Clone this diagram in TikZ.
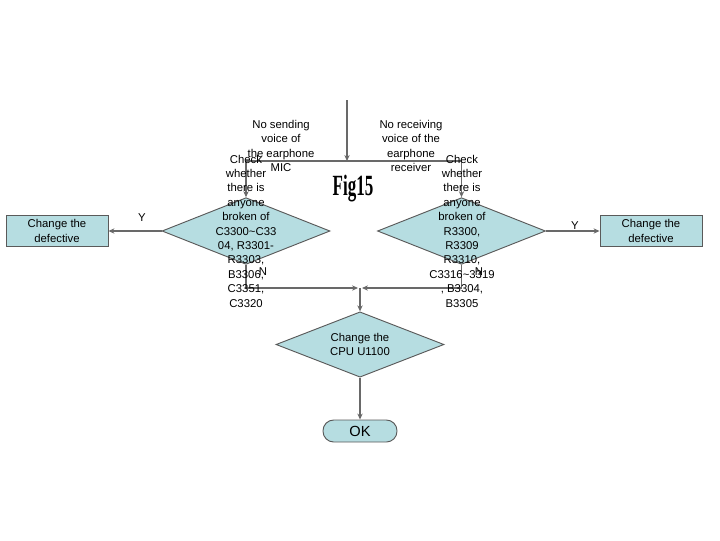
\documentclass[tikz,border=0pt]{standalone}
\usepackage{fontspec}
\setmainfont{Liberation Sans}
\newfontfamily\figfont{Liberation Serif}
\usetikzlibrary{shapes.geometric,arrows.meta}
\definecolor{fillc}{RGB}{182,221,225}
\definecolor{edgec}{RGB}{90,90,90}
\definecolor{linec}{RGB}{105,105,105}
\tikzset{
  dia/.style={diamond,draw=edgec,fill=fillc,line width=0.7pt,inner sep=0pt},
  boxx/.style={rectangle,draw=edgec,fill=fillc,line width=0.7pt,inner sep=0pt,
    minimum width=76.5pt,minimum height=23.25pt,align=center,
    font=\fontsize{8.5}{10.8}\selectfont},
  txt/.style={align=center,inner sep=0pt,font=\fontsize{8.5}{10.8}\selectfont},
  conn/.style={draw=linec,line width=1pt},
  arr/.style={conn,-{Stealth[length=4.5pt,width=4pt]}}
}
\begin{document}
\begin{tikzpicture}[x=0.75pt,y=-0.75pt]
\useasboundingbox (0,0) rectangle (720,540);
% diamonds
\node[dia,minimum width=126pt,minimum height=50pt] (d1) at (246,231) {};
\node[dia,minimum width=126pt,minimum height=50pt] (d2) at (461.5,231) {};
\node[dia,minimum width=126pt,minimum height=49pt] (d3) at (360,344.5) {};
% boxes
\node[boxx] (b1) at (57,231) {Change the\\defective};
\node[boxx] (b2) at (651,231) {Change the\\defective};
\node[boxx,rounded corners=8pt,minimum width=55.5pt,minimum height=16.5pt,
  font=\fontsize{11}{13}\selectfont] (ok) at (360,431) {OK};
% coordinates
\coordinate (top) at (347,100);
\coordinate (j) at (347,161);
\coordinate (jl) at (246,161);
\coordinate (jr) at (461.5,161);
\coordinate (m1) at (358,288);
\coordinate (m2) at (362,288);
\coordinate (m) at (360,288);
% connectors
\draw[arr] (top) -- (j);
\draw[conn] (jl) -- (jr);
\draw[arr] (jl) -- (d1.north);
\draw[arr] (jr) -- (d2.north);
\draw[arr] (d1.west) -- (b1.east);
\draw[arr] (d2.east) -- (b2.west);
\draw[arr] (d1.south) |- (m1);
\draw[arr] (d2.south) |- (m2);
\draw[arr] (m) -- (d3.north);
\draw[arr] (d3.south) -- (ok.north);
% texts
\node[txt] (t1) at (281,146) {No sending\\voice of\\the earphone\\MIC};
\node[txt] (t2) at (411,146) {No receiving\\voice of the\\earphone\\receiver};
\node[txt] (t3) at (246,231) {Check\\whether\\there is\\anyone\\broken of\\C3300\textasciitilde C33\\04, R3301-\\R3303,\\B3306,\\C3351,\\C3320};
\node[txt] (t4) at (462,231) {Check\\whether\\there is\\anyone\\broken of\\R3300,\\R3309\\R3310,\\C3316\textasciitilde 3319\\, B3304,\\B3305};
\node[txt] (t5) at (360,344.5) {Change the\\CPU U1100};
\node[txt] (y1) at (142,218) {Y};
\node[txt] (y2) at (575,226) {Y};
\node[txt] (n1) at (263,272) {N};
\node[txt] (n2) at (479,272) {N};
\node[inner sep=0pt,xscale=0.58,font=\figfont\bfseries\fontsize{22}{24}\selectfont] (fig) at (353,189) {Fig15};
\end{tikzpicture}
\end{document}
